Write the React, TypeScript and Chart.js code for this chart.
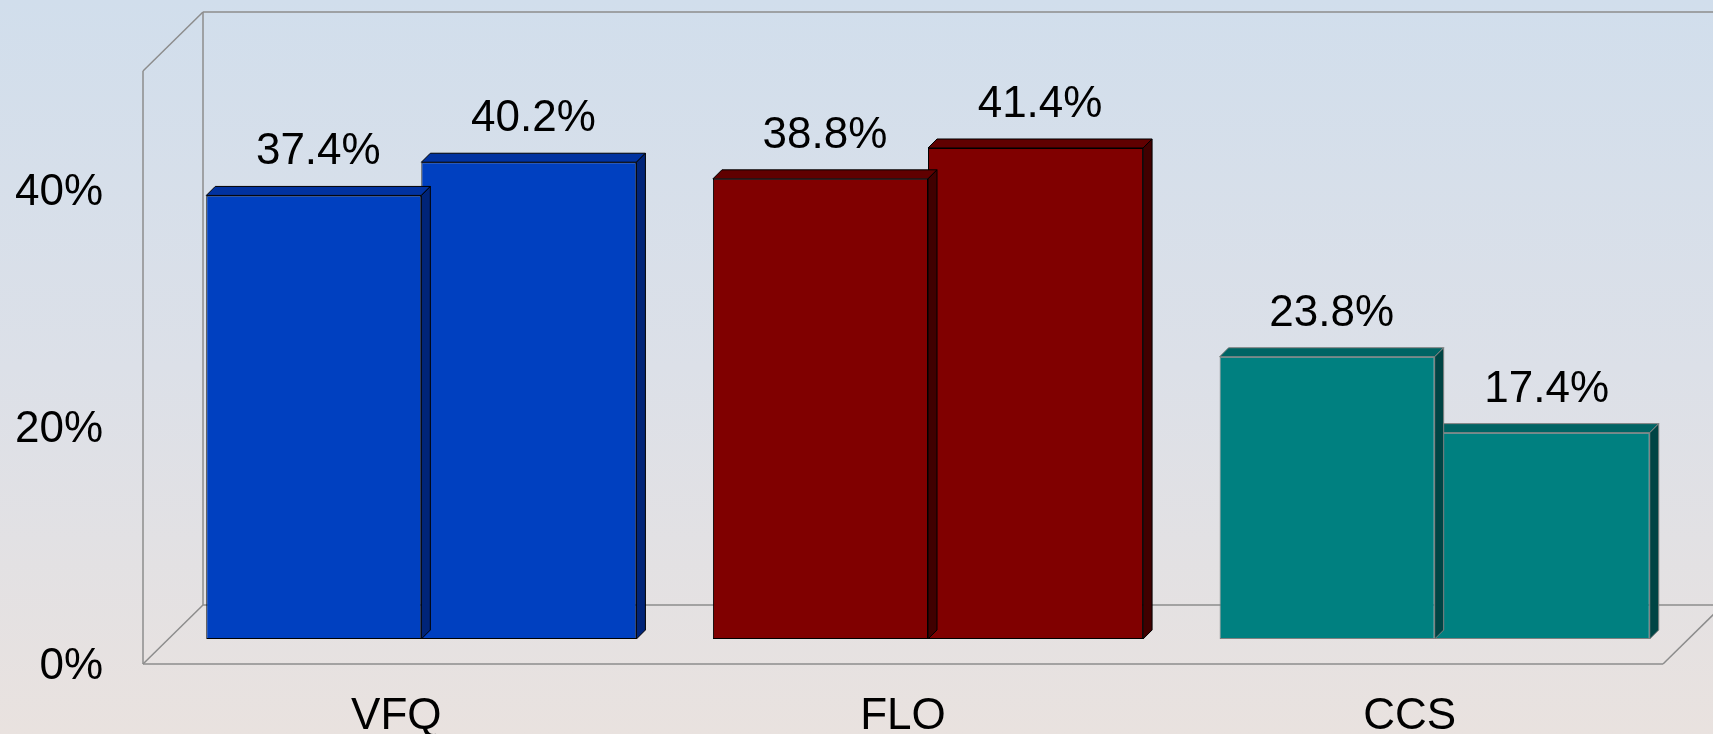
import React, { useEffect, useRef } from 'react';
import { Chart, registerables } from 'chart.js';

Chart.register(...registerables);

const categories = ['VFQ', 'FLO', 'CCS'];
const seriesA = [37.4, 38.8, 23.8];
const seriesB = [40.2, 41.4, 17.4];
const yTicks = [0, 20, 40];
const yMax = 50;

const frontColors = ['#0040C0', '#800000', '#008080'];
const topColors = ['#0032A0', '#600000', '#006464'];
const sideColors = ['#002478', '#400000', '#004444'];
const edgeColors = ['#000000', '#000000', '#808080'];

const FONT = '"Liberation Sans", Arial, Helvetica, sans-serif';
const DEPTH = 9;
const FRONT = { dx: -25, dy: 25 };
const BACK = { dx: 35, dy: -34 };
const W = 1713;
const H = 734;

const framePlugin = {
  id: 'frame3d',
  beforeDatasetsDraw(chart: any) {
    const ctx = chart.ctx;
    const { left, right, top, bottom } = chart.chartArea;
    const bl = left + BACK.dx, br = right + BACK.dx, bt = top + BACK.dy, bb = bottom + BACK.dy;
    const fl = left + FRONT.dx, fr = right + FRONT.dx, ft = top + FRONT.dy, fb = bottom + FRONT.dy;
    ctx.save();
    ctx.strokeStyle = '#8c8c8c';
    ctx.lineWidth = 1.5;
    const seg = (x1: number, y1: number, x2: number, y2: number) => {
      ctx.beginPath();
      ctx.moveTo(x1, y1);
      ctx.lineTo(x2, y2);
      ctx.stroke();
    };
    seg(bl, bt, br + 20, bt);
    seg(bl, bt, bl, bb);
    seg(bl, bb, br + 20, bb);
    seg(fl, ft, bl, bt);
    seg(fl, ft, fl, fb);
    seg(fl, fb, bl, bb);
    seg(fl, fb, fr, fb);
    seg(fr, fb, br, bb);
    ctx.restore();
  },
  afterDatasetDraw(chart: any, args: any) {
    const ctx = chart.ctx;
    const meta = args.meta;
    ctx.save();
    ctx.lineWidth = 1;
    meta.data.forEach((el: any, i: number) => {
      const l = el.x - el.width / 2;
      const r = el.x + el.width / 2;
      const t = el.y;
      const b = el.base;
      ctx.strokeStyle = edgeColors[i];
      // top face
      ctx.beginPath();
      ctx.moveTo(l, t);
      ctx.lineTo(l + DEPTH, t - DEPTH);
      ctx.lineTo(r + DEPTH, t - DEPTH);
      ctx.lineTo(r, t);
      ctx.closePath();
      ctx.fillStyle = topColors[i];
      ctx.fill();
      ctx.stroke();
      // side face
      ctx.beginPath();
      ctx.moveTo(r, t);
      ctx.lineTo(r + DEPTH, t - DEPTH);
      ctx.lineTo(r + DEPTH, b - DEPTH);
      ctx.lineTo(r, b);
      ctx.closePath();
      ctx.fillStyle = sideColors[i];
      ctx.fill();
      ctx.stroke();
    });
    ctx.restore();
  },
  afterDatasetsDraw(chart: any) {
    const ctx = chart.ctx;
    ctx.save();
    ctx.font = `44px ${FONT}`;
    ctx.fillStyle = '#000000';
    ctx.textAlign = 'center';
    ctx.textBaseline = 'alphabetic';
    chart.data.datasets.forEach((ds: any, di: number) => {
      const meta = chart.getDatasetMeta(di);
      meta.data.forEach((el: any, i: number) => {
        const v = ds.data[i] as number;
        ctx.fillText(v.toFixed(1) + '%', el.x + DEPTH / 2, el.y - DEPTH - 22);
      });
    });
    ctx.restore();
  },
};

export default function App() {
  const ref = useRef<HTMLCanvasElement | null>(null);
  useEffect(() => {
    if (!ref.current) return;
    const chart = new Chart(ref.current, {
      type: 'bar',
      data: {
        labels: categories,
        datasets: [
          {
            data: seriesA,
            backgroundColor: frontColors,
            borderColor: edgeColors,
            borderWidth: 1,
            borderSkipped: false,
            categoryPercentage: 0.849,
            barPercentage: 1.0,
          },
          {
            data: seriesB,
            backgroundColor: frontColors,
            borderColor: edgeColors,
            borderWidth: 1,
            borderSkipped: false,
            categoryPercentage: 0.849,
            barPercentage: 1.0,
          },
        ],
      },
      options: {
        responsive: false,
        animation: false,
        events: [],
        layout: { padding: { top: 46, right: 25, left: 0, bottom: 0 } },
        plugins: {
          legend: { display: false },
          tooltip: { enabled: false },
          title: { display: false },
        },
        scales: {
          x: {
            grid: { display: false, drawTicks: false },
            border: { display: false },
            ticks: {
              color: '#000000',
              font: { family: FONT, size: 44 },
              padding: 51,
              labelOffset: FRONT.dx,
              maxRotation: 0,
            },
            afterFit(scale: any) {
              scale.height = 95;
              scale.paddingLeft = 0;
              scale.paddingRight = 0;
            },
          },
          y: {
            min: 0,
            max: yMax,
            grid: { display: false, drawTicks: false },
            border: { display: false },
            ticks: {
              color: '#000000',
              font: { family: FONT, size: 44 },
              padding: 65,
              labelOffset: FRONT.dy + 3,
              callback: (v: any) => v + '%',
            },
            afterBuildTicks(scale: any) {
              scale.ticks = yTicks.map((v) => ({ value: v }));
            },
            afterFit(scale: any) {
              scale.width = 168;
              scale.paddingTop = 0;
              scale.paddingBottom = 0;
            },
          },
        },
      },
      plugins: [framePlugin],
    });
    return () => chart.destroy();
  }, []);

  return (
    <div
      style={{
        position: 'absolute',
        left: 0,
        top: 0,
        width: W,
        height: H,
        background: 'linear-gradient(to bottom, #d1deec 0%, #dce0e8 50%, #e9e2df 100%)',
      }}
    >
      <canvas ref={ref} width={W} height={H} style={{ display: 'block' }} />
    </div>
  );
}
